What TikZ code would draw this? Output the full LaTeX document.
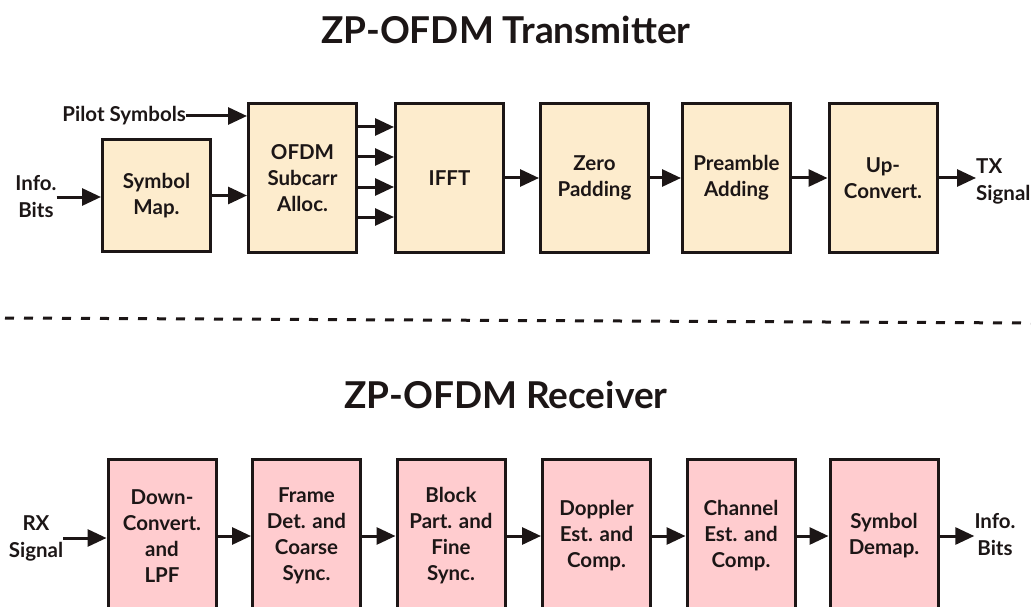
\documentclass[tikz,border=0pt]{standalone}
\usepackage{fontspec}
\setmainfont{Lato}
\usetikzlibrary{arrows.meta,calc}
\definecolor{txfill}{RGB}{253,236,205}
\definecolor{rxfill}{RGB}{255,204,207}
\definecolor{ink}{RGB}{28,22,22}

\begin{document}
\begin{tikzpicture}[x=1pt,y=-1pt,
  blk/.style={draw=ink, line width=3pt, minimum width=108pt, align=center,
    font=\fontsize{20.5}{26}\selectfont\bfseries, text=ink, inner sep=0pt},
  txblk/.style={blk, fill=txfill, minimum height=149pt},
  rxblk/.style={blk, fill=rxfill, minimum height=153pt},
  arr/.style={draw=ink, line width=3pt, -{Triangle[length=19pt,width=17pt]}},
  lbl/.style={font=\fontsize{20.5}{27}\selectfont\bfseries, text=ink, align=center, inner sep=0pt},
  heading/.style={font=\fontsize{37}{40}\selectfont\bfseries, text=ink, inner sep=0pt}]
\useasboundingbox (0,0) rectangle (1031,607);
\clip (0,0) rectangle (1031,607);

% ---------- transmitter ----------
\node[heading] (txtitle) at (506,30) {ZP-OFDM Transmitter};

\node[txblk, minimum height=112pt] (symmap) at (156.5,195.5) {Symbol\\Map.};
\node[txblk] (ofdm) at (302.5,178) {OFDM\\Subcarr\\Alloc.};
\node[txblk] (ifft) at (449.5,178) {IFFT};
\node[txblk] (zero) at (594.5,178) {Zero\\Padding};
\node[txblk] (pre)  at (736.5,178) {Preamble\\Adding};
\node[txblk] (up)   at (883,178)   {Up-\\Convert.};

\node[lbl] (infoin) at (36,197) {Info.\\Bits};
\node[lbl, anchor=east] (pilot) at (186,116) {Pilot Symbols};
\node[lbl, align=left, anchor=west] (txout) at (976,181) {TX\\Signal};

\draw[arr] (infoin.east) -- (symmap.west |- infoin.east);
\draw[arr] (symmap.east) -- (ofdm.west |- symmap.east);
\draw[arr] (pilot.east) -- (ofdm.west |- pilot.east);
\foreach \k/\yy in {1/127,2/157,3/187,4/217}{
  \coordinate (sc\k) at (0,\yy);
  \draw[arr] (ofdm.east |- sc\k) -- (ifft.west |- sc\k);
}
\draw[arr] (ifft.east) -- (zero.west);
\draw[arr] (zero.east) -- (pre.west);
\draw[arr] (pre.east) -- (up.west);
\draw[arr] (up.east) -- (up.east -| txout.west);

% ---------- separator ----------
\draw[draw=ink, line width=3pt, dash pattern=on 9pt off 10pt] (5,318) -- (1031,323);

% ---------- receiver ----------
\node[heading] (rxtitle) at (506,395) {ZP-OFDM Receiver};

\node[rxblk] (down)  at (162,536)   {Down-\\Convert.\\and\\LPF};
\node[rxblk] (frame) at (306.5,536) {Frame\\Det. and\\Coarse\\Sync.};
\node[rxblk] (block) at (451,536)   {Block\\Part. and\\Fine\\Sync.};
\node[rxblk] (dop)   at (596.5,536) {Doppler\\Est. and\\Comp.};
\node[rxblk] (chan)  at (741,536)   {Channel\\Est. and\\Comp.};
\node[rxblk] (demap) at (884,536)   {Symbol\\Demap.};

\node[lbl] (rxin) at (36,538) {RX\\Signal};
\node[lbl] (infoout) at (995,535) {Info.\\Bits};

\draw[arr] (rxin.east) -- (down.west |- rxin.east);
\draw[arr] (down.east) -- (frame.west);
\draw[arr] (frame.east) -- (block.west);
\draw[arr] (block.east) -- (dop.west);
\draw[arr] (dop.east) -- (chan.west);
\draw[arr] (chan.east) -- (demap.west);
\draw[arr] (demap.east) -- (demap.east -| infoout.west);
\end{tikzpicture}
\end{document}
